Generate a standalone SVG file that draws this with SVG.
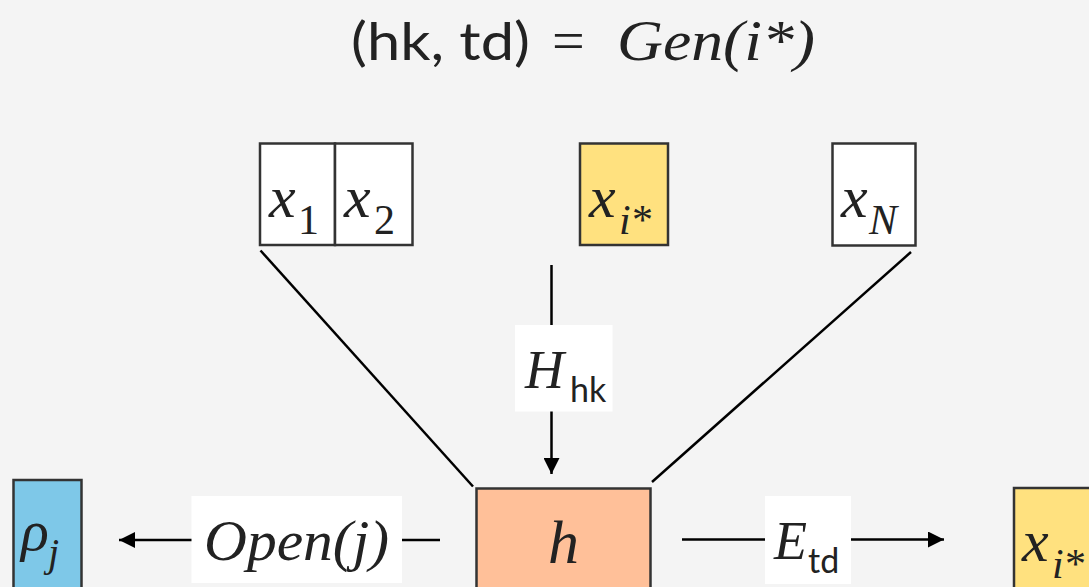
<svg xmlns="http://www.w3.org/2000/svg" width="1089" height="587" viewBox="0 0 1089 587">
<style>
.bg{fill:#f4f4f4}
.box{stroke:#333;stroke-width:2.5}
.white{fill:#ffffff}
.yellow{fill:#ffe17f}
.orange{fill:#ffc099}
.blue{fill:#7ec8e8}
.lbl{fill:#ffffff;stroke:none}
.ln{stroke:#000;stroke-width:2.5;fill:none}
</style>
<defs>
<marker id="ah" viewBox="0 0 16 16" refX="16" refY="8" markerWidth="16" markerHeight="16" markerUnits="userSpaceOnUse" orient="auto">
<path d="M0,0 L16,8 L0,16 Z" fill="#000"/>
</marker>
</defs>
<rect class="bg" x="0" y="0" width="1089" height="587"/>
<g id="title" fill="#222">
<text x="351" y="60" font-family="Lato, sans-serif" font-size="52" textLength="179" lengthAdjust="spacingAndGlyphs">(hk, td)</text>
<text x="552" y="60" font-family="Liberation Serif, serif" font-size="58">=</text>
<text x="617" y="60" font-family="Liberation Serif, serif" font-style="italic" font-size="58" textLength="198" lengthAdjust="spacingAndGlyphs">Gen(i*)</text>
</g>
<g id="connectors">
<line class="ln" x1="260.5" y1="250.5" x2="473" y2="486.5"/>
<line class="ln" x1="911" y1="252" x2="652" y2="482"/>
<line class="ln" x1="551.5" y1="265" x2="551.5" y2="474" marker-end="url(#ah)"/>
<line class="ln" x1="440" y1="540" x2="119" y2="540" marker-end="url(#ah)"/>
<line class="ln" x1="682" y1="539.5" x2="944" y2="539.5" marker-end="url(#ah)"/>
<g id="label-hhk" fill="#222">
<rect class="lbl" x="515" y="325" width="97.5" height="86.5"/>
<text x="525" y="388" font-family="Liberation Serif, serif" font-style="italic" font-size="54">H</text>
<text x="570" y="402" font-family="Lato, sans-serif" font-size="34">hk</text>
</g>
<g id="label-open" fill="#222">
<rect class="lbl" x="191.5" y="496" width="210.5" height="87"/>
<text x="204" y="560" font-family="Liberation Serif, serif" font-style="italic" font-size="56" textLength="185" lengthAdjust="spacingAndGlyphs">Open(j)</text>
</g>
<g id="label-etd" fill="#222">
<rect class="lbl" x="765" y="496" width="86" height="88"/>
<text x="774" y="559" font-family="Liberation Serif, serif" font-style="italic" font-size="54">E</text>
<text x="808" y="573" font-family="Lato, sans-serif" font-size="34">td</text>
</g>
</g>
<g id="node-x1" fill="#222">
<rect class="box white" x="260" y="143.5" width="75" height="101.5"/>
<text x="269" y="217" font-family="Liberation Serif, serif" font-style="italic" font-size="60">x</text>
<text x="298" y="234" font-family="Liberation Serif, serif" font-size="42">1</text>
</g>
<g id="node-x2" fill="#222">
<rect class="box white" x="335" y="143.5" width="77.5" height="101.5"/>
<text x="344" y="217" font-family="Liberation Serif, serif" font-style="italic" font-size="60">x</text>
<text x="374" y="234" font-family="Liberation Serif, serif" font-size="42">2</text>
</g>
<g id="node-xistar" fill="#222">
<rect class="box yellow" x="580" y="143.5" width="88" height="101.5"/>
<text x="589" y="217" font-family="Liberation Serif, serif" font-style="italic" font-size="60">x</text>
<text x="619" y="234" font-family="Liberation Serif, serif" font-style="italic" font-size="42">i</text>
<text x="632" y="234" font-family="Liberation Serif, serif" font-size="42">*</text>
</g>
<g id="node-xN" fill="#222">
<rect class="box white" x="832.5" y="143.5" width="83" height="102"/>
<text x="841" y="217" font-family="Liberation Serif, serif" font-style="italic" font-size="60">x</text>
<text x="869" y="234" font-family="Liberation Serif, serif" font-style="italic" font-size="42">N</text>
</g>
<g id="node-h" fill="#222">
<rect class="box orange" x="476.5" y="488.5" width="174" height="110"/>
<text x="563.5" y="563" font-family="Liberation Serif, serif" font-style="italic" font-size="62" text-anchor="middle">h</text>
</g>
<g id="node-rho" fill="#222">
<rect class="box blue" x="13.5" y="480" width="68" height="120"/>
<text x="21" y="550" font-family="Liberation Serif, serif" font-style="italic" font-size="58">ρ</text>
<text x="48" y="566" font-family="Liberation Serif, serif" font-style="italic" font-size="40">j</text>
</g>
<g id="node-xistar-out" fill="#222">
<rect class="box yellow" x="1014" y="488" width="90" height="110"/>
<text x="1022" y="561" font-family="Liberation Serif, serif" font-style="italic" font-size="60">x</text>
<text x="1052" y="578" font-family="Liberation Serif, serif" font-style="italic" font-size="42">i</text>
<text x="1065" y="578" font-family="Liberation Serif, serif" font-size="42">*</text>
</g>
</svg>
